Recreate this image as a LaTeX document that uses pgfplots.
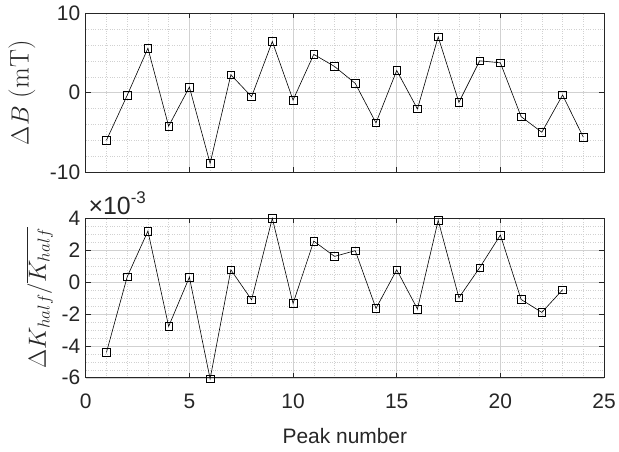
\documentclass[border=0pt]{standalone}
\usepackage{pgfplots}
\pgfplotsset{compat=1.18}
\usepackage{fontspec}
\newfontfamily\arial{Liberation Sans}
\definecolor{axc}{rgb}{0.15,0.15,0.15}
\pgfplotsset{
  mystyle/.style={
    scale only axis, width=520pt, height=160pt,
    xmin=0, xmax=25, xtick={0,5,...,25}, minor x tick num=4,
    axis line style={axc, line width=0.6pt},
    tick style={axc, line width=0.6pt},
    major tick length=5pt, minor tick length=0pt,
    tick align=inside,
    grid=both, clip=false,
    major grid style={black!18, line width=0.5pt},
    minor grid style={black!18, dotted, line width=0.5pt},
    tick label style={font=\arial\fontsize{21}{24}\selectfont, text=axc},
    xticklabel style={yshift=-13pt},
    yticklabel style={xshift=-2pt},
    /pgf/number format/assume math mode=true,
    label style={text=axc},
  },
  myplot/.style={black, line width=0.6pt, mark=square, mark size=3.8pt, mark options={solid, line width=0.6pt}},
}
\begin{document}
\begin{tikzpicture}[x=1pt,y=1pt]
\path (0,0) rectangle (619,453);
\begin{axis}[mystyle, at={(86pt,280pt)}, anchor=south west,
  ymin=-10, ymax=10, ytick={-10,0,10}, minor y tick num=4,
  xticklabels={},
  ylabel={\fontsize{27}{30}\selectfont$\Delta B$ (mT)},
  ylabel style={at={(axis description cs:-0.123,0.5)}, anchor=center},
]
\addplot[myplot] coordinates {
(1,-5.96) (2,-0.33) (3,5.58) (4,-4.2) (5,0.71) (6,-8.87) (7,2.25) (8,-0.5)
(9,6.42) (10,-0.92) (11,4.81) (12,3.29) (13,1.17) (14,-3.79) (15,2.79) (16,-2.04)
(17,7.0) (18,-1.21) (19,4.0) (20,3.75) (21,-3.0) (22,-4.96) (23,-0.29) (24,-5.58)
};
\end{axis}
\begin{axis}[mystyle, at={(86pt,74pt)}, anchor=south west,
  ymin=-6, ymax=4, ytick={-6,-4,...,4}, minor y tick num=3,
  xlabel={\arial\fontsize{21}{24}\selectfont Peak number},
  xlabel style={at={(axis description cs:0.5,-0.3625)}, anchor=center},
  ylabel={\fontsize{27}{30}\selectfont$\Delta K_{half}/\overline{K_{half}}$},
  ylabel style={at={(axis description cs:-0.0885,0.5)}, anchor=center},
]
\addplot[myplot] coordinates {
(1,-4.41) (2,0.33) (3,3.2) (4,-2.78) (5,0.31) (6,-6.07) (7,0.77) (8,-1.11)
(9,4.0) (10,-1.34) (11,2.57) (12,1.61) (13,1.97) (14,-1.65) (15,0.77) (16,-1.69)
(17,3.87) (18,-0.98) (19,0.9) (20,2.95) (21,-1.09) (22,-1.9) (23,-0.48)
};
\node[anchor=base west, inner sep=0pt, text=axc, scale=1.0] at (axis description cs:0.005,1.025) {\arial\fontsize{25}{28}\selectfont ×10\raisebox{0.45em}{\fontsize{17}{20}\selectfont -3}};
\end{axis}
\end{tikzpicture}
\end{document}
